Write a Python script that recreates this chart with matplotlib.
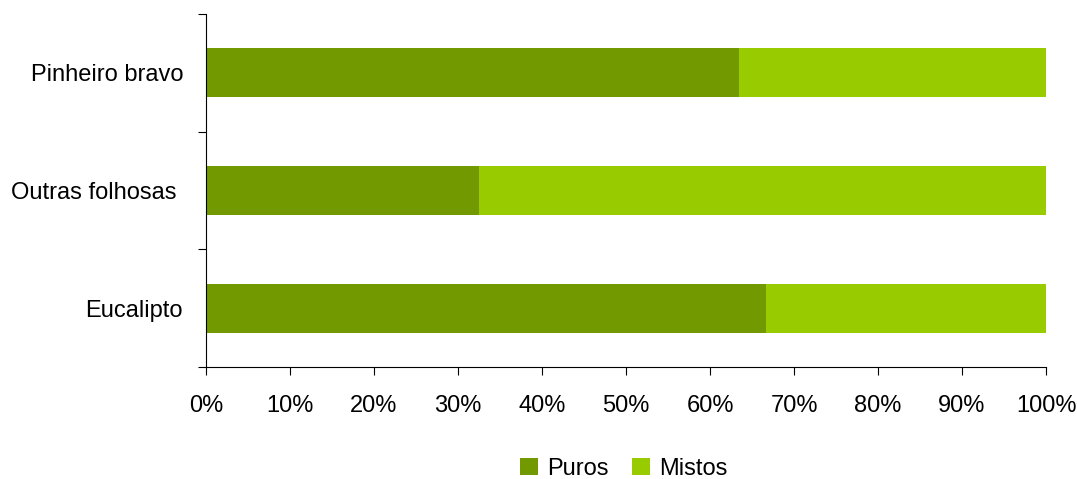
import numpy as np
import matplotlib.pyplot as plt
from matplotlib.ticker import FixedLocator, PercentFormatter

plt.rcParams["font.family"] = ["Liberation Sans", "DejaVu Sans"]

categories = ["Eucalipto", "Outras folhosas ", "Pinheiro bravo"]
puros = [66.7, 32.5, 63.5]
mistos = [100 - p for p in puros]
x_ticks = list(range(0, 101, 10))

dark = "#739900"
light = "#99cc00"
fs = 17

fig = plt.figure(figsize=(10.77, 4.79), dpi=100)
ax = fig.add_axes([206 / 1077, 1 - 367 / 479, 840 / 1077, 353 / 479])

y = np.arange(len(categories))
h = 0.415
ax.barh(y, puros, height=h, color=dark, label="Puros", linewidth=0)
ax.barh(y, mistos, left=puros, height=h, color=light, label="Mistos", linewidth=0)

ax.set_xlim(0, 100)
ax.set_ylim(-0.5, len(categories) - 0.5)
ax.set_xticks(x_ticks)
ax.xaxis.set_major_formatter(PercentFormatter(decimals=0))
ax.set_yticks(y)
ax.set_yticklabels(categories)
ax.yaxis.set_minor_locator(FixedLocator(np.arange(-0.5, len(categories), 1.0)))

ax.tick_params(axis="y", which="major", length=0, pad=16.5, labelsize=fs)
ax.tick_params(axis="y", which="minor", length=6, width=0.8, direction="out")
ax.tick_params(axis="x", length=6, width=0.8, pad=14, labelsize=fs)

for s in ["top", "right"]:
    ax.spines[s].set_visible(False)
for s in ["left", "bottom"]:
    ax.spines[s].set_linewidth(0.8)

fig.legend(loc="center", bbox_to_anchor=(624 / 1077, 1 - 469 / 479), ncol=2,
           frameon=False, fontsize=fs, handlelength=0.75, handleheight=0.75,
           handletextpad=0.4, columnspacing=1.0, borderaxespad=0)

fig.savefig("out.png", dpi=100)
